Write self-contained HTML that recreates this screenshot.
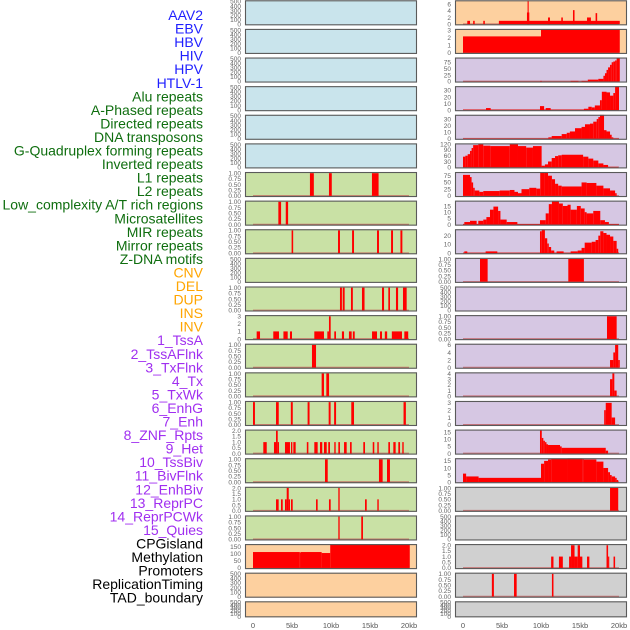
<!DOCTYPE html>
<html><head><meta charset="utf-8"><style>
html,body{margin:0;padding:0;background:#fff;}
svg{display:block;font-family:"Liberation Sans",sans-serif;}
</style></head><body>
<svg id="chart" width="630" height="630" viewBox="0 0 630 630" xmlns="http://www.w3.org/2000/svg"></svg>
<script>
// ---- data ----
const trackLabels=["AAV2","EBV","HBV","HIV","HPV","HTLV-1","Alu repeats","A-Phased repeats","Directed repeats","DNA transposons","G-Quadruplex forming repeats","Inverted repeats","L1 repeats","L2 repeats","Low_complexity A/T rich regions","Microsatellites","MIR repeats","Mirror repeats","Z-DNA motifs","CNV","DEL","DUP","INS","INV","1_TssA","2_TssAFlnk","3_TxFlnk","4_Tx","5_TxWk","6_EnhG","7_Enh","8_ZNF_Rpts","9_Het","10_TssBiv","11_BivFlnk","12_EnhBiv","13_ReprPC","14_ReprPCWk","15_Quies","CPGisland","Methylation","Promoters","ReplicationTiming","TAD_boundary"];
const labelGroups=["virus","virus","virus","virus","virus","virus","repeat","repeat","repeat","repeat","repeat","repeat","repeat","repeat","repeat","repeat","repeat","repeat","repeat","sv","sv","sv","sv","sv","state","state","state","state","state","state","state","state","state","state","state","state","state","state","state","other","other","other","other","other"];
const xTickValues=[0,5,10,15,20];
const xTickLabels=["0","5kb","10kb","15kb","20kb"];
const ticksEmpty=["0","100","200","300","400","500"];
const ticksBin=["0.00","0.25","0.50","0.75","1.00"];
const ticksTwo=["0.0","0.5","1.0","1.5","2.0"];
// segments: [startKb, endKb, value]
const L6=[[7.3,7.8,1],[9.74,10.1,1],[15.25,16.1,1]];
const L7=[[3.25,3.6,1],[4.2,4.5,1]];
const L8=[[4.95,5.15,1],[10.9,11.15,1],[12.7,12.95,1],[15.9,16.15,1],[17.7,17.95,1],[18.9,19.15,1]];
const L10=[[11.15,11.4,1],[11.5,11.75,1],[12.56,12.8,1],[13.97,14.3,1],[16.54,16.8,1],[17.35,17.56,1],[18.33,18.6,1],[19.23,19.7,1]];
const L11=[[0.47,0.9,1],[2.6,3.33,1],[3.9,4.45,1],[4.74,5.0,1],[7.86,9.1,1],[9.53,9.74,1],[9.74,9.96,3],[10.42,10.64,1],[11.4,11.67,1],[12.3,12.65,1],[12.8,13.04,1],[15.26,15.9,1],[16.28,16.54,1],[16.9,17.2,1],[17.8,19.1,1],[19.4,19.9,1]];
const L12=[[7.56,8.08,1]];
const L13=[[8.8,9.1,1],[9.4,9.75,1]];
const L14=[[0,0.25,1],[2.95,3.3,1],[4.85,5.1,1],[7.0,7.25,1],[9.7,9.95,1],[10.4,10.65,1],[12.6,12.95,1],[19.3,19.6,1]];
const L15=[[1.32,1.76,1],[2.69,2.95,1],[2.95,3.17,2],[3.17,3.33,1],[4.1,4.74,1],[4.87,5.04,1],[5.17,5.47,1],[6.9,7.1,1],[7.86,8.29,1],[8.59,8.88,1],[9.1,9.45,1],[9.65,9.87,1],[10.42,10.6,1],[10.94,11.15,1],[11.67,12.01,1],[12.44,12.65,1],[14.14,14.36,1],[15.35,15.55,1],[15.94,16.12,1],[17.35,17.56,1],[17.99,18.29,1],[18.63,18.85,1],[19.14,19.32,1]];
const L16=[[9.23,9.58,1],[16.15,16.62,1],[17.18,17.56,1]];
const L17=[[2.95,3.29,1],[3.59,3.81,1],[4.1,4.32,1],[4.32,4.58,2],[4.58,4.74,1],[4.87,5.09,1],[8.08,8.29,1],[9.74,9.96,1],[10.94,11.11,2],[14.36,14.58,1],[15.94,16.12,1]];
const L18=[[10.94,11.11,1],[13.88,14.1,1]];
const L19=[[0,6.0,112],[6.0,6.1,108],[6.1,8.8,112],[8.8,9.9,105],[9.9,20.1,175]];
const R0=[[0.55,0.9,1],[1.3,1.5,1],[2.6,2.8,1],[4.6,20.1,1],[8.2,8.5,3.5],[8.28,8.42,7.5],[10.9,11.15,2],[12.6,12.8,2],[14.1,14.3,4.2],[15.9,16.4,2],[17.0,17.2,3.3]];
const R1=[[0,10,2.2],[10,20.1,3.3]];
const R2=[[0,20,0.5],[9.9,10.1,2],[13.8,14.8,2],[15.2,16,2],[16,17.35,7],[17.35,18.0,10],[18.0,18.2,22],[18.2,18.4,32],[18.4,18.6,45],[18.6,18.85,55],[18.85,19.06,65],[19.06,19.27,75],[19.27,19.5,78],[19.5,19.7,82],[19.7,20.1,95]];
const R3=[[0,20,0.5],[2.95,3.55,3],[9.87,10.4,6],[10.6,11.24,3],[15.5,16.07,2],[16.07,16.5,5],[16.5,16.9,4],[16.9,17.56,7],[17.56,17.8,15],[17.8,18.4,28],[18.4,18.85,27],[18.85,19.27,22],[19.27,19.5,26],[19.5,20.0,38]];
const R4=[[0,20,0.5],[10.94,11.37,2],[11.37,12.65,4],[12.65,13.3,7],[13.3,13.7,9],[13.7,14.36,11],[14.36,15.2,16],[15.2,15.64,18],[15.64,16.28,22],[16.28,16.7,23],[16.7,17.14,26],[17.14,17.35,30],[17.35,17.56,33],[17.56,18.08,37],[18.08,18.4,13],[18.4,18.85,11],[18.85,19.06,6],[19.06,19.27,2]];
const R5=[[0,0.3,55],[0.3,0.6,60],[0.6,0.9,68],[0.9,1.1,85],[1.1,1.3,100],[1.3,1.96,115],[1.96,2.6,120],[2.6,3.5,112],[3.5,6.0,110],[6.0,7.05,120],[7.05,8.1,110],[8.1,8.97,102],[8.97,10.08,110],[10.08,10.5,8],[10.5,10.9,15],[10.9,11.37,30],[11.37,11.8,48],[11.8,12.2,58],[12.2,12.65,62],[12.65,15.4,65],[15.4,16.07,55],[16.07,16.7,45],[16.7,17.35,35],[17.35,18.0,20],[18.0,18.6,12],[18.6,19.9,2]];
const R6=[[0,0.9,78],[0.9,1.1,70],[1.1,1.3,50],[1.3,1.5,30],[1.5,2.1,20],[2.1,2.6,15],[2.6,4.7,18],[4.7,6.0,20],[6.0,6.6,22],[6.6,7.05,15],[7.05,7.5,10],[7.5,8.5,25],[8.5,9.4,30],[9.4,9.9,27],[9.9,10.5,85],[10.5,10.9,88],[10.9,11.4,75],[11.4,11.8,62],[11.8,12.2,45],[12.2,12.65,38],[12.65,15.2,35],[15.2,15.85,50],[15.85,17.1,48],[17.1,18.0,38],[18.0,18.85,28],[18.85,19.5,20],[19.5,19.7,10]];
const R7=[[0,20,0.4],[0.17,0.9,2],[0.9,1.75,3],[1.96,2.6,3],[2.6,3.0,4],[3.0,3.46,6],[3.46,3.9,12],[3.9,4.5,14.5],[4.5,4.8,11],[4.8,5.6,4],[5.6,6.97,2],[9.87,10.6,3.5],[10.6,11.0,9],[11.0,11.4,16.5],[11.4,12.3,19],[12.3,12.8,17],[12.8,13.4,15],[13.4,13.8,16],[13.8,14.6,12],[14.6,15.1,15],[15.1,15.6,13],[15.6,15.85,10],[15.85,16.7,9],[16.7,17.6,11],[17.6,18.2,3.5],[18.2,18.7,2]];
const R8=[[0,20,0.4],[0.17,0.55,2],[2.9,4.4,2],[9.87,10.1,25],[10.1,10.5,28],[10.5,10.8,17],[10.8,11.0,11],[11.0,11.3,7],[11.3,11.7,3],[12.0,12.9,2],[13.8,14.7,2],[14.7,15.2,3],[15.2,15.6,6],[15.6,16.5,12],[16.5,17.0,13],[17.0,17.35,15],[17.35,17.6,20],[17.6,18.0,25],[18.0,18.4,23],[18.4,18.85,21],[18.85,19.27,19],[19.27,19.7,14],[19.7,19.9,5]];
const R9=[[2.18,3.16,1],[13.5,15.5,1]];
const R11=[[18.46,19.7,1]];
const R12=[[18.85,19.27,2],[19.27,19.5,4],[19.5,19.9,6],[19.9,20.1,2]];
const R13=[[18.85,19.15,3],[19.15,19.4,4],[19.4,19.7,1]];
const R14=[[18.1,18.3,2],[18.3,19.06,3],[19.06,19.5,1]];
const R15=[[9.87,10.1,17],[10.1,10.3,11],[10.3,10.5,9],[10.5,10.7,8],[10.7,10.9,6.5],[10.9,12.44,6],[12.44,12.65,5],[12.65,18.3,4],[18.3,18.6,2]];
const R16=[[0,0.4,6],[0.4,2,4],[2,10,3],[10,10.4,13],[10.4,10.9,15],[10.9,11.3,16],[11.3,13.4,16.5],[13.4,15.3,17.5],[15.3,15.5,16.5],[15.5,17.1,16],[17.1,18.0,14.5],[18.0,18.6,10],[18.6,18.85,7],[18.85,19.06,5],[19.06,19.5,4],[19.5,19.7,3],[19.7,19.9,1.5]];
const R17=[[18.85,19.9,1]];
const R19=[[11.3,11.6,1],[12.3,12.8,1],[13.6,13.85,1],[13.85,14.3,2],[14.3,14.7,1],[14.7,15.0,2],[15.0,15.3,1],[15.9,16.2,1],[18.4,18.6,2],[18.6,18.75,1],[19.3,19.5,1]];
const R20=[[3.7,3.96,1],[6.54,6.88,1],[11.4,11.6,1]];
// panel definitions: column, row, background group, scale max, tick labels, segments
const leftPanels=[
 ["blue",500,ticksEmpty,null],["blue",500,ticksEmpty,null],["blue",500,ticksEmpty,null],["blue",500,ticksEmpty,null],["blue",500,ticksEmpty,null],["blue",500,ticksEmpty,null],
 ["green",1,ticksBin,L6],["green",1,ticksBin,L7],["green",1,ticksBin,L8],["green",500,ticksEmpty,null],["green",1,ticksBin,L10],["green",3,["0","1","2","3"],L11],
 ["green",1,ticksBin,L12],["green",1,ticksBin,L13],["green",1,ticksBin,L14],["green",2,ticksTwo,L15],["green",1,ticksBin,L16],["green",2,ticksTwo,L17],["green",1,ticksBin,L18],
 ["peach",160,["0","50","100","150"],L19],["peach",500,ticksEmpty,null],["peach",500,ticksEmpty,null]];
const rightPanels=[
 ["peach",6.8,["0","2","4","6"],R0],["peach",3.05,["0","1","2","3"],R1],
 ["lav",89,["0","25","50","75"],R2],["lav",34.8,["0","10","20","30"],R3],["lav",34.8,["0","10","20","30"],R4],["lav",118,["0","30","60","90","120"],R5],
 ["lav",84.5,["0","25","50","75"],R6],["lav",18.4,["0","5","10","15"],R7],["lav",26,["0","10","20"],R8],["lav",1,ticksBin,R9],["lav",500,ticksEmpty,null],
 ["lav",1,ticksBin,R11],["lav",6,["0","2","4","6"],R12],["lav",4,["0","1","2","3","4"],R13],["lav",3.1,["0","1","2","3"],R14],["lav",16.1,["0","5","10","15"],R15],["lav",16.1,["0","5","10","15"],R16],
 ["gray",1,ticksBin,R17],["gray",500,ticksEmpty,null],["gray",2,ticksTwo,R19],["gray",1,ticksBin,R20],["gray",500,ticksEmpty,null]];

// ---- rendering ----
const NS="http://www.w3.org/2000/svg";
const svg=document.getElementById("chart");
const bgColors={blue:"#c9e4ec",green:"#c9e1a5",peach:"#fdd09f",lav:"#d6c7e3",gray:"#d0d0d0"};
const labelColors={virus:"#1f1fff",repeat:"#0f6e0f",sv:"#ffa500",state:"#a02ff0",other:"#000000"};
function mk(tag,attrs,parent){const e=document.createElementNS(NS,tag);for(const k in attrs)e.setAttribute(k,attrs[k]);(parent||svg).appendChild(e);return e;}
const defs=mk("defs",{});

trackLabels.forEach((t,i)=>{
  const el=mk("text",{x:203,y:(20+13.55*i).toFixed(1),"text-anchor":"end","font-size":"14",fill:labelColors[labelGroups[i]]});
  el.textContent=t;
  
  
});

function drawPanel(p,row,col){
  const [grp,M,ticks,segs]=p;
  const px=col===0?245:455, pw=172;
  const top=0.3+28.62*row, h=row===21?16:25;
  const x0=col===0?253:463, kx=7.8;
  const xs=kb=>x0+kb*kx;
  const ymin=-0.05*M, ymax=1.05*M;
  const ys=v=>top+h-(Math.min(v,ymax)-ymin)/(ymax-ymin)*h;
  const g=mk("g",{});
  
  
  const cid="clip"+col+"_"+row;
  const cp=mk("clipPath",{id:cid},defs);mk("rect",{x:px,y:top,width:pw,height:h},cp);
  const bg=mk("rect",{x:px,y:top,width:pw,height:h,fill:bgColors[grp]},g);
  
  
  const inner=mk("g",{"clip-path":"url(#"+cid+")"},g);
  if(segs){
    const bl=mk("line",{x1:xs(0),x2:xs(20),y1:ys(0),y2:ys(0),stroke:"#c05050","stroke-opacity":"0.7","stroke-width":"1.6"},inner);
    
    
    segs.forEach(s=>{
      const y=ys(s[2]);
      const r=mk("rect",{x:xs(s[0]).toFixed(2),y:y.toFixed(2),width:Math.max(1,(xs(s[1])-xs(s[0]))).toFixed(2),height:(ys(0)-y).toFixed(2),fill:"#ff0000"},inner);
      
      
    });
  }
  const fr=mk("rect",{x:px+0.5,y:top+0.5,width:pw-1,height:h-1,fill:"none",stroke:"#5a5a5a","stroke-width":"1.1"},g);
  
  
  ticks.forEach(t=>{
    const v=parseFloat(t);
    const tx=mk("text",{x:px-4,y:(ys(v)+2.3).toFixed(1),"text-anchor":"end","font-size":"6.5",fill:"#666"},g);
    tx.textContent=t;
    
    
  });
}
leftPanels.forEach((p,i)=>drawPanel(p,i,0));
rightPanels.forEach((p,i)=>drawPanel(p,i,1));

[253,463].forEach((x0,c)=>{
  xTickValues.forEach((v,j)=>{
    const t=mk("text",{x:x0+v*7.8,y:628,"text-anchor":"middle","font-size":"7.5",fill:"#555"});
    t.textContent=xTickLabels[j];
    
    
  });
});
</script>
</body></html>
